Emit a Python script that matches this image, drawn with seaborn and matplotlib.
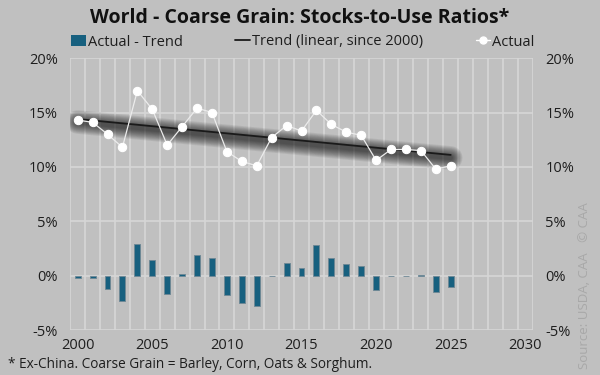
import seaborn as sns
import pandas as pd
import numpy as np
import matplotlib
matplotlib.use('Agg')
import matplotlib.pyplot as plt
import matplotlib.transforms as mtransforms
from matplotlib.patches import Patch
from matplotlib.lines import Line2D
from matplotlib.ticker import FuncFormatter, MultipleLocator

# values (percent)
years = list(range(2000, 2026))
actual = [14.3, 14.1, 13.0, 11.8, 17.0, 15.3, 12.0, 13.7, 15.4, 15.0,
          11.4, 10.5, 10.1, 12.7, 13.8, 13.3, 15.2, 13.9, 13.2, 12.9,
          10.6, 11.6, 11.6, 11.5, 9.8, 10.1]
actual_minus_trend = [-0.2, -0.2, -1.2, -2.3, 2.9, 1.4, -1.65, 0.15, 1.9, 1.6,
                      -1.8, -2.5, -2.75, -0.05, 1.15, 0.7, 2.8, 1.6, 1.07, 0.85,
                      -1.3, -0.05, 0.0, 0.05, -1.5, -1.0]
trend_years = [2000, 2025]
trend_vals = [14.4, 11.1]

bg = '#c0c0c0'
grid = '#d6d6d6'
bar_color = '#17607f'
text_color = '#1e1e1e'

sns.set_style('white')
plt.rcParams['font.family'] = ['Open Sans', 'DejaVu Sans']

df = pd.DataFrame({'Year': years, 'Diff': actual_minus_trend, 'Actual': actual})

fig = plt.figure(figsize=(6, 3.75), dpi=100, facecolor=bg)
ax = fig.add_axes([0.117, 0.12, 0.771, 0.725], facecolor=bg)

# grid
ax.set_xlim(1999.5, 2030.5)
ax.set_ylim(-5, 20)
ax.xaxis.set_major_locator(MultipleLocator(5))
ax.xaxis.set_minor_locator(MultipleLocator(1, offset=0.5))
ax.yaxis.set_major_locator(MultipleLocator(5))
ax.grid(which='minor', axis='x', color=grid, lw=1.2, zorder=0)
ax.grid(which='major', axis='y', color=grid, lw=1.2, zorder=0)
ax.set_axisbelow(True)

sns.barplot(data=df, x='Year', y='Diff', native_scale=True, width=0.4,
            color=bar_color, edgecolor='#6e8794', linewidth=0.6,
            saturation=1, ax=ax, zorder=2)

# blurred shadow under the trend line
shadow = mtransforms.offset_copy(ax.transData, fig=fig, x=0, y=-3, units='dots')
for lw in np.linspace(17, 3, 12):
    ax.plot(trend_years, trend_vals, color='black', lw=lw, alpha=0.065,
            solid_capstyle='round', transform=shadow, zorder=3)
sns.lineplot(x=trend_years, y=trend_vals, color='#1a1a1a', lw=1.3, ax=ax, zorder=4)

sns.lineplot(data=df, x='Year', y='Actual', color='#ececec', lw=0.9,
             marker='o', markersize=6, markeredgecolor='white',
             markerfacecolor='white', ax=ax, zorder=5)

ax.set_xlabel('')
ax.set_ylabel('')
for s in ax.spines.values():
    s.set_visible(False)
ax.tick_params(axis='both', which='both', length=0, colors=text_color, labelsize=10.5)
ax.tick_params(axis='y', labelright=True, pad=9)
ax.tick_params(axis='x', pad=6)
ax.yaxis.set_major_formatter(FuncFormatter(lambda v, p: f'{v:.0f}%'))

handles = [
    Patch(facecolor=bar_color, edgecolor='none'),
    Line2D([0], [0], color='#1a1a1a', lw=1.3),
    Line2D([0], [0], color='white', lw=1.0, marker='o', markersize=5,
           markerfacecolor='white', markeredgecolor='white'),
]
labels = ['Actual - Trend', 'Trend (linear, since 2000)', 'Actual']
fig.legend(handles, labels, loc='center', bbox_to_anchor=(0.505, 0.888), ncol=3,
           frameon=False, fontsize=10.5, handlelength=1.0, handleheight=0.8,
           handletextpad=0.15, columnspacing=3.6, labelcolor=text_color)

fig.text(0.5, 0.952, 'World - Coarse Grain: Stocks-to-Use Ratios*', ha='center',
         va='center', fontsize=14, fontweight='bold', color='#111111')
fig.text(0.013, 0.027, '* Ex-China. Coarse Grain = Barley, Corn, Oats & Sorghum.',
         ha='left', va='center', fontsize=9.8, color=text_color)
fig.text(0.975, 0.015, 'Source: USDA, CAA   © CAA', rotation=90, ha='center',
         va='bottom', fontsize=9.5, color='#a8a8a8')

fig.savefig('out.png', dpi=100, facecolor=bg)
